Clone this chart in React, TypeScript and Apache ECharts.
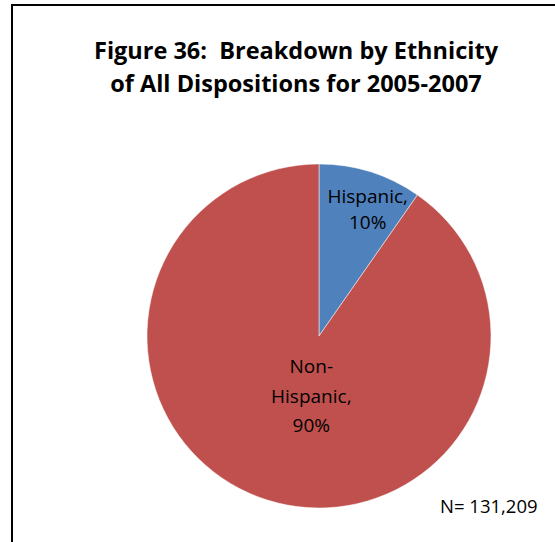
import React, { useEffect, useRef } from "react";
import * as echarts from "echarts";

const categories = ["Hispanic", "Non-\nHispanic"];
const values = [9.7, 90.3];
const colors = ["#4F81BD", "#C0504D"];
const titleLines = ["Figure 36:  Breakdown by Ethnicity", "of All Dispositions for 2005-2007"];
const note = "N= 131,209";

export default function App() {
  const ref = useRef<HTMLDivElement>(null);
  useEffect(() => {
    document.body.style.margin = "0";
    const chart = echarts.init(ref.current!, null, { renderer: "svg" });
    const total = values.reduce((a, b) => a + b, 0);
    chart.setOption({
      animation: false,
      backgroundColor: "#ffffff",
      title: {
        text: titleLines.join("\n"),
        left: 291,
        top: 28,
        textAlign: "center",
        textStyle: { fontFamily: "Open Sans", fontWeight: "bold", fontSize: 23.5, lineHeight: 33, color: "#000" },
      },
      graphic: [
        {
          type: "rect",
          shape: { x: 12, y: 5, width: 600, height: 600 },
          style: { fill: "none", stroke: "#000", lineWidth: 2 },
          silent: true,
        },
        {
          type: "text",
          x: 440,
          y: 496,
          style: { text: note, font: "18.5px 'Open Sans'", fill: "#000" },
        },
      ],
      series: [
        {
          type: "pie",
          center: [319, 336],
          radius: 172,
          startAngle: 90,
          clockwise: true,
          itemStyle: { borderColor: "#fff", borderWidth: 0.5 },
          label: {
            position: "inside",
            fontFamily: "Open Sans",
            fontSize: 19,
            color: "#000",
            formatter: (p: any) => `${p.name},\n${Math.round((p.value / total) * 100)}%`,
          },
          labelLine: { show: false },
          data: categories.map((c, i) => ({
            name: c,
            value: values[i],
            itemStyle: { color: colors[i] },
            label: i === 0 ? { offset: [22, -42], lineHeight: 26 } : { offset: [19, -25], lineHeight: 29.5 },
          })),
        },
      ],
    });
    return () => chart.dispose();
  }, []);
  return <div ref={ref} style={{ width: 555, height: 542, position: "absolute", left: 0, top: 0 }} />;
}
